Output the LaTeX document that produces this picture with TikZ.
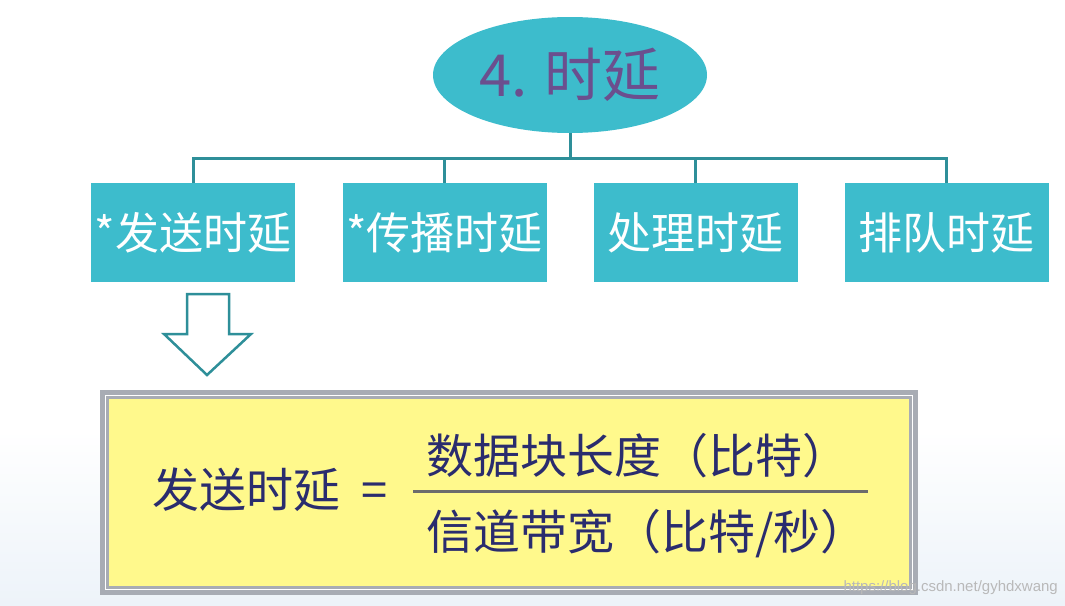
\documentclass[tikz,border=0pt]{standalone}
\usepackage{fontspec}
\setmainfont{Noto Sans CJK SC}
\newfontfamily\wmfont{Liberation Sans}
\usetikzlibrary{shapes.geometric}
\definecolor{teal1}{HTML}{3DBCCC}
\definecolor{tealline}{HTML}{2E8F99}
\definecolor{purp}{HTML}{6B4F8E}
\definecolor{navy}{HTML}{2A2C6E}
\definecolor{yell}{HTML}{FFF98C}
\definecolor{greyb}{HTML}{A8ACB4}
\definecolor{bgbot}{HTML}{EDF3F9}
\tikzset{
  catbox/.style={rectangle, fill=teal1, minimum width=204pt, minimum height=99pt, inner sep=0pt, text=white, font=\fontsize{44}{50}\selectfont},
  conn/.style={draw=tealline, line width=3pt},
  ftext/.style={text=navy, inner sep=0pt, anchor=west, font=\fontsize{47}{54}\selectfont}
}
\begin{document}
\begin{tikzpicture}[x=1pt,y=-1pt]
\useasboundingbox (0,0) rectangle (1065,605);
\fill[white] (0,0) rectangle (1065,605);
\shade[top color=white, bottom color=bgbot] (0,430) rectangle (1065,605);
% top ellipse
\node[ellipse, fill=teal1, minimum width=274pt, minimum height=116pt, inner sep=0pt, text=purp, font=\fontsize{58}{64}\selectfont] (top) at (570,75) {4. 时延};
% boxes
\node[catbox] (b1) at (193,232.5) {*发送时延};
\node[catbox] (b2) at (444.5,232.5) {*传播时延};
\node[catbox] (b3) at (695.5,232.5) {处理时延};
\node[catbox] (b4) at (946.5,232.5) {排队时延};
\coordinate (bus) at (570,158);
\draw[conn] (top.south) -- (top.south |- bus);
\draw[conn] (b1.north) -- (b1.north |- bus) -- (b4.north |- bus) -- (b4.north);
\draw[conn] (b2.north) -- (b2.north |- bus);
\draw[conn] (b3.north) -- (b3.north |- bus);
% hollow arrow
\draw[draw=tealline, line width=2.5pt, fill=white, line join=miter]
  (187,294) -- (229,294) -- (229,334) -- (251,334) -- (207,375) -- (164,334) -- (187,334) -- cycle;
% formula box
\fill[greyb] (100,390) rectangle (918,595);
\draw[white, line width=1.5pt] (105.5,395.5) rectangle (912.5,589.5);
\fill[yell] (109,399) rectangle (909,586);
\node[ftext] (lhs) at (152,490) {发送时延\hspace{0.45em}=};
\node[ftext] (num) at (426,456) {数据块长度（比特）};
\node[ftext] (den) at (426,534) {信道带宽（比特/秒）};
\coordinate (fl) at (413,491);
\coordinate (fr) at (868,491);
\draw[draw=gray!85!black, line width=3pt] (fl) -- (fr);
% watermark
\node[text=gray!55, font=\wmfont\fontsize{15}{17}\selectfont, anchor=east, inner sep=0pt] (wm) at (1058,588) {https://blog.csdn.net/gyhdxwang};
\end{tikzpicture}
\end{document}
